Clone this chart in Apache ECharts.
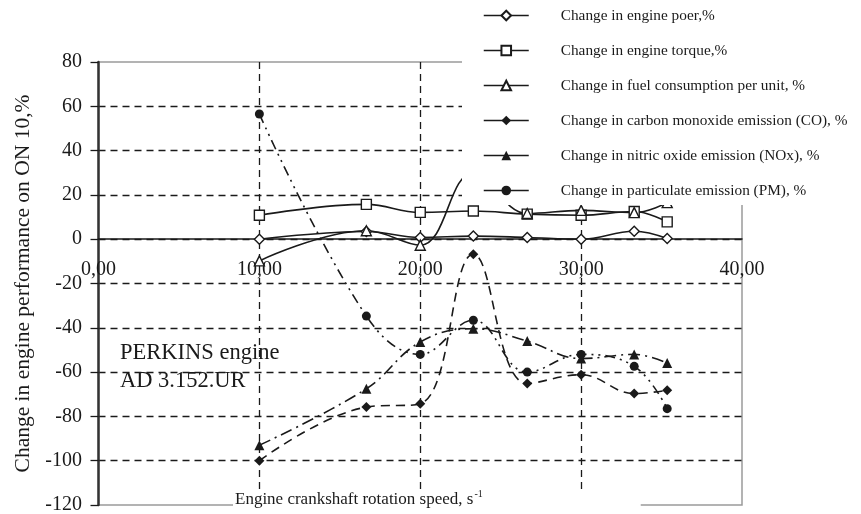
<!DOCTYPE html>
<html>
<head>
<meta charset="utf-8">
<script src="https://cdn.jsdelivr.net/npm/echarts@6/dist/echarts.min.js"></script>
<style>
html, body { margin: 0; padding: 0; background: #fff; }
#chart { width: 861px; height: 514px; }
</style>
</head>
<body>
<div id="chart"></div>
<script>
// engine speed, s^-1
var speed = [10, 16.65, 20, 23.3, 26.65, 30, 33.3, 35.35];
// change in %
var power = [0, 3.5, 0.8, 1.4, 0.8, 0, 3.6, 0.3];
var torque = [10.8, 15.7, 12.1, 12.7, 11.3, 10.8, 12.5, 7.8];
var fuel = [-9.8, 3.8, -2.7, 30, 11.6, 13, 12, 16.5];
var co = [-100, -75.8, -74.3, -6.8, -65.2, -61.2, -69.7, -68.2];
var nox = [-93, -67.5, -46.4, -40.4, -46, -53.9, -52, -55.9];
var pm = [56.5, -34.7, -52, -36.6, -60, -52, -57.4, -76.5];

var names = [
	'Change in engine poer,%',
	'Change in engine torque,%',
	'Change in fuel consumption per unit, %',
	'Change in carbon monoxide emission (CO), %',
	'Change in nitric oxide emission (NOx), %',
	'Change in particulate emission (PM), %'
];
var xTickLabels = ['0,00', '10,00', '20,00', '30,00', '40,00'];

var serif = 'Liberation Serif';
var ink = '#1a1a1a';

function pairs(vals) {
	return speed.map(function (s, i) { return [s, vals[i]]; });
}

function makeSeries(name, vals, symbol, hollow, dash) {
	return {
		name: name,
		type: 'line',
		data: pairs(vals),
		smooth: 0.4,
		symbol: symbol,
		symbolSize: symbol === 'circle' ? 9 : 10,
		showSymbol: true,
		lineStyle: { color: ink, width: 1.6, type: dash || 'solid' },
		itemStyle: hollow
			? { color: '#fff', borderColor: ink, borderWidth: 1.4 }
			: { color: ink, borderColor: ink, borderWidth: 0 },
		emphasis: { disabled: true },
		z: 2
	};
}

var chart = echarts.init(document.getElementById('chart'));
var option = {
	animation: false,
	backgroundColor: '#fff',
	grid: {
		left: 98.5, right: 119, top: 62, bottom: 9,
		show: true, borderColor: '#9a9a9a', borderWidth: 1.5,
		outerBoundsMode: 'none'
	},
	legend: {
		orient: 'vertical',
		left: 462, top: 0,
		padding: [8, 10, 7, 21],
		backgroundColor: '#fff',
		itemWidth: 45, itemHeight: 12, itemGap: 20,
		lineStyle: { type: 'solid', color: ink, width: 1.5 },
		textStyle: { fontFamily: serif, fontSize: 15.3, lineHeight: 14, color: ink, padding: [0, 0, 0, 27] },
		data: names,
		z: 10
	},
	xAxis: {
		type: 'value',
		min: 0, max: 40, interval: 10,
		offset: -265.8,
		axisLine: { onZero: false, lineStyle: { color: ink, width: 1.5 } },
		axisTick: { show: false },
		axisLabel: {
			fontFamily: serif, fontSize: 20, color: ink, margin: 21,
			formatter: function (v) { return xTickLabels[Math.round(v / 10)]; }
		},
		splitLine: {
			show: true, showMinLine: false, showMaxLine: false,
			lineStyle: { color: ink, width: 1.3, type: [7, 5] }
		}
	},
	yAxis: {
		type: 'value',
		min: -120, max: 80, interval: 20,
		name: 'Change in engine performance on ON 10,%',
		nameLocation: 'middle',
		nameGap: 64,
		nameTextStyle: { fontFamily: serif, fontSize: 21.5, color: ink },
		axisLine: { show: true, lineStyle: { color: '#333', width: 2.5 } },
		axisTick: { show: true, length: 8, lineStyle: { color: ink, width: 1.3 } },
		axisLabel: { fontFamily: serif, fontSize: 20, color: ink, margin: 16.5 },
		splitLine: {
			show: true, showMinLine: false, showMaxLine: false,
			lineStyle: { color: ink, width: 1.3, type: [7, 5] }
		}
	},
	graphic: [
		{
			type: 'text', left: 120, top: 339, z: 5,
			style: {
				text: 'PERKINS engine\nAD 3.152.UR',
				font: '22.5px "Liberation Serif"', fill: ink, lineHeight: 28
			}
		},
		{
			type: 'text', left: 233, top: 489, z: 5,
			style: {
				text: '{a|Engine crankshaft rotation speed, s}{b|-1}',
				backgroundColor: '#fff',
				padding: [0, 158, 2, 2],
				rich: {
					a: { fontFamily: serif, fontSize: 17, fill: ink, lineHeight: 22 },
					b: { fontFamily: serif, fontSize: 10, fill: ink, verticalAlign: 'top', lineHeight: 22, padding: [0, 0, 10, 1] }
				}
			}
		}
	],
	series: [
		makeSeries(names[0], power, 'diamond', true),
		makeSeries(names[1], torque, 'rect', true),
		makeSeries(names[2], fuel, 'triangle', true),
		makeSeries(names[3], co, 'diamond', false, [9, 6]),
		makeSeries(names[4], nox, 'triangle', false, [12, 5, 2, 5]),
		makeSeries(names[5], pm, 'circle', false, [10, 5, 2, 5, 2, 5])
	]
};
chart.setOption(option);
</script>
</body>
</html>
